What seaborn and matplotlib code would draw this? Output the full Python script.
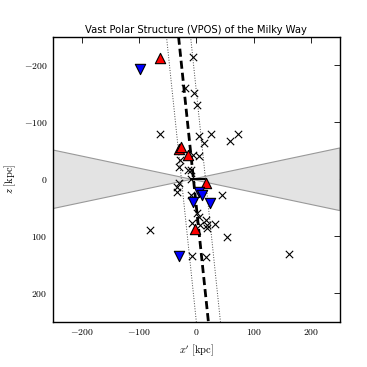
import numpy as np
import pandas as pd
import matplotlib
matplotlib.use("Agg")
import matplotlib.pyplot as plt
import seaborn as sns

# -----------------------------
# Data
# -----------------------------
# satellites / clusters (black crosses)
cross_x = [-5, -19, -3.5, 1, -63, 5, 26, 14, 59, 73, -5, 4, -28, -31, -15, -10,
           -9, -31, -33, -34, -10, 45, 1, 4, 16, -8, 19, 33, 7, 19, -81, 54, -7, 17, 162]
cross_z = [-215, -160, -152, -130, -79, -76, -79, -63, -67, -79, -42, -40, -33, -21, -16, -16,
           0, 7, 13, 22, 28, 27, 60, 66, 71, 77, 80, 78, 80, 86, 89, 102, 134, 137, 131]

# co-orbiting (red, up) and counter-orbiting (blue, down)
red_x = [-64, -31, -27, -15, 16, -3]
red_z = [-213, -53, -57, -42, 7, 87]
blue_x = [-99, 4, 9, -5, 23, -30]
blue_z = [-194, 23, 28, 39, 42, 134]

# best-fit plane and its rms height
plane_z = [-250, 250]
plane_x = [-31, 21]
plane_rms = 21

# zone of avoidance wedge
sun_x = -8.3
zoa_deg = 12

# Milky Way disk
disk_x = [-10, 15]
disk_z = [0, 0]

ticks = [-200, -100, 0, 100, 200]

# -----------------------------
# Plot
# -----------------------------
sns.set_style("white")
plt.rcParams["mathtext.fontset"] = "cm"
plt.rcParams["font.family"] = ["DejaVu Sans"]
for key in ["text.color", "axes.labelcolor", "xtick.color", "ytick.color"]:
    plt.rcParams[key] = "k"

fig = plt.figure(figsize=(3.67, 3.67), dpi=100)
ax = fig.add_axes([0.144, 0.123, 0.782, 0.777])

# wedge
t = np.tan(np.radians(zoa_deg))
for edge in [-250, 250]:
    h = abs(edge - sun_x) * t
    ax.fill([sun_x, edge, edge], [0, -h, h], facecolor="#e3e3e3",
            edgecolor="#999999", lw=0.8, zorder=1)

# plane
px = np.array(plane_x)
ax.plot(px, plane_z, color="k", lw=2, dashes=(2.9, 1.45), zorder=2)
ax.plot(px - plane_rms, plane_z, color="#444444", lw=0.7, ls=":", zorder=2)
ax.plot(px + plane_rms, plane_z, color="#444444", lw=0.7, ls=":", zorder=2)

ax.plot(disk_x, disk_z, color="k", lw=1.5, zorder=3)

df_c = pd.DataFrame({"x": cross_x, "z": cross_z})
df_r = pd.DataFrame({"x": red_x, "z": red_z})
df_b = pd.DataFrame({"x": blue_x, "z": blue_z})

sns.scatterplot(data=df_c, x="x", y="z", ax=ax, marker="x", color="k",
                s=28, linewidth=0.8, zorder=4)
sns.scatterplot(data=df_r, x="x", y="z", ax=ax, marker="^", color="red",
                edgecolor="k", s=55, linewidth=0.8, zorder=5)
sns.scatterplot(data=df_b, x="x", y="z", ax=ax, marker="v", color="blue",
                edgecolor="k", s=55, linewidth=0.8, zorder=5)

ax.set_xlim(-250, 250)
ax.set_ylim(250, -250)
ax.set_xticks(ticks)
ax.set_yticks(ticks)
ax.set_xticklabels([r"$%d$" % v for v in ticks], fontsize=7)
ax.set_yticklabels([r"$%d$" % v for v in ticks], fontsize=7)
ax.tick_params(direction="in", top=True, right=True, length=4, width=0.6, pad=4)
for sp in ax.spines.values():
    sp.set_linewidth(1)
    sp.set_color("k")

ax.set_xlabel(r"$x'\ \mathrm{[kpc]}$", fontsize=7.5)
ax.set_ylabel(r"$z\ \mathrm{[kpc]}$", fontsize=7.5)
ax.set_title("Vast Polar Structure (VPOS) of the Milky Way", fontsize=7.2, pad=3)

fig.savefig("out.png", dpi=100)
